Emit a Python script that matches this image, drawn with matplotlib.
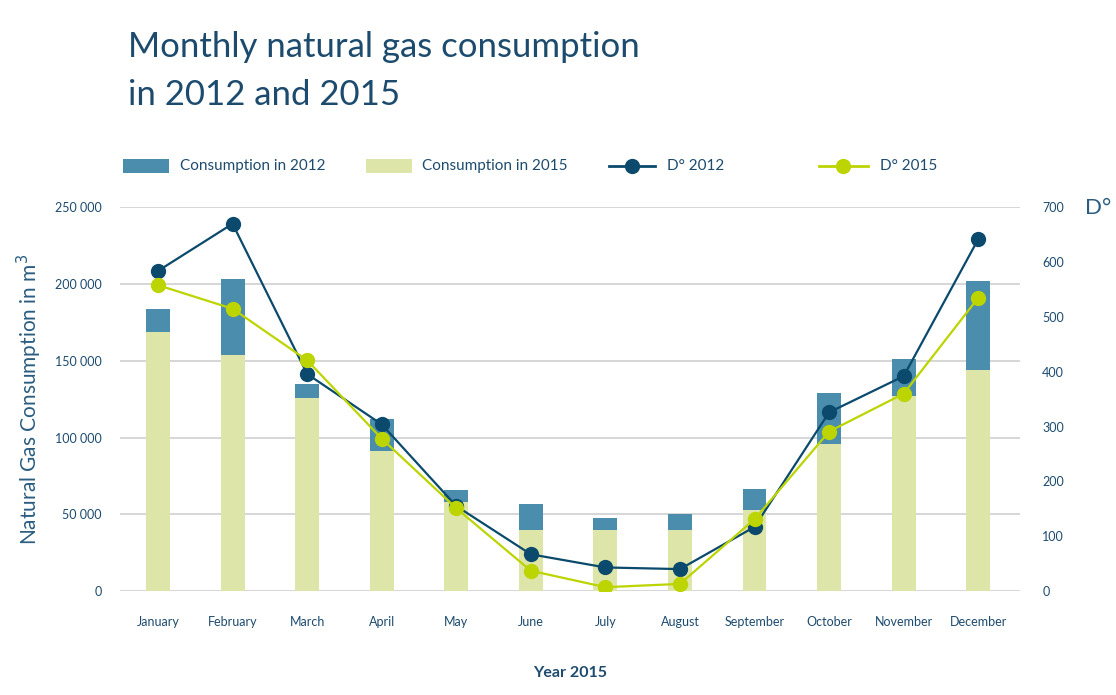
import matplotlib
matplotlib.use("Agg")
import matplotlib.pyplot as plt
from matplotlib.patches import Rectangle
from matplotlib.lines import Line2D
from matplotlib.ticker import FuncFormatter, MultipleLocator

plt.rcParams['font.family'] = ['Lato', 'DejaVu Sans']

months = ["January", "February", "March", "April", "May", "June", "July",
          "August", "September", "October", "November", "December"]
cons_2012 = [184000, 203000, 135000, 112000, 65500, 57000, 47500, 50500, 66500, 129000, 151500, 202000]
cons_2015 = [169000, 154000, 126000, 91000, 58000, 39500, 39500, 39500, 53000, 96000, 127000, 144000]
dd_2012 = [584, 670, 396, 304, 155, 67, 43, 40, 117, 326, 392, 642]
dd_2015 = [558, 515, 421, 278, 151, 37, 7, 13, 131, 291, 360, 535]

C_BAR12 = "#4a8dad"
C_BAR15 = "#dde5a9"
C_LINE12 = "#0b4a6c"
C_LINE15 = "#bcd400"
C_TEXT = "#1d4b6e"
C_LABEL = "#2a5d80"
C_GRID = "#cfcfcf"

fig = plt.figure(figsize=(11.16, 6.95), dpi=100)
ax = fig.add_axes([0.1075, 0.1496, 0.8065, 0.5521])
x = list(range(len(months)))
w = 0.32
ax.bar(x, cons_2012, width=w, color=C_BAR12, zorder=2)
ax.bar(x, cons_2015, width=w, color=C_BAR15, zorder=3)
ax.set_ylim(0, 250000)
ax.set_xlim(-0.51, 11.56)
ax.yaxis.set_major_locator(MultipleLocator(50000))
ax.yaxis.set_major_formatter(FuncFormatter(lambda v, p: f"{int(v):,}".replace(",", " ")))
ax.grid(axis='y', color=C_GRID, linewidth=1.2, zorder=0)
ax.set_axisbelow(True)
for s in ax.spines.values():
    s.set_visible(False)
ax.tick_params(axis='both', length=0, labelsize=9, labelcolor=C_TEXT)
ax.tick_params(axis='y', pad=13)
ax.tick_params(axis='x', pad=18)
ax.set_xticks(x)
ax.set_xticklabels(months)
ax.set_xlabel("Year 2015", fontsize=11.5, fontweight='bold', color=C_TEXT, labelpad=27)
ax.set_ylabel("Natural Gas Consumption in m$^3$", fontsize=15, color=C_LABEL,
              fontweight='normal', labelpad=8)

ax2 = ax.twinx()
ax2.set_ylim(0, 700)
ax2.yaxis.set_major_locator(MultipleLocator(100))
for s in ax2.spines.values():
    s.set_visible(False)
ax2.tick_params(axis='y', length=0, labelsize=9, labelcolor=C_TEXT, pad=16)
ax2.plot(x, dd_2012, color=C_LINE12, lw=1.6, marker='o', ms=11, mew=0, zorder=4)
ax2.plot(x, dd_2015, color=C_LINE15, lw=1.6, marker='o', ms=11, mew=0, zorder=5)
fig.text(1085/1116, 1 - 208/695, "D°", fontsize=16, color=C_LABEL,
         ha='left', va='center')

# Title
fig.text(128/1116, 1 - 31/695, "Monthly natural gas consumption\nin 2012 and 2015",
         fontsize=25, color=C_TEXT, fontweight='normal', ha='left', va='top', linespacing=1.6)

# Legend (manual)
W, H = 1116, 695
ly = 1 - 166/H
def fx(px):
    return px / W
fig.add_artist(Rectangle((fx(123), ly - 7/H), 46/W, 14/H, transform=fig.transFigure,
                         facecolor=C_BAR12, edgecolor='none'))
fig.text(fx(180), ly, "Consumption in 2012", fontsize=11, color=C_TEXT, va='center', ha='left')
fig.add_artist(Rectangle((fx(366), ly - 7/H), 46/W, 14/H, transform=fig.transFigure,
                         facecolor=C_BAR15, edgecolor='none'))
fig.text(fx(422), ly, "Consumption in 2015", fontsize=11, color=C_TEXT, va='center', ha='left')
fig.add_artist(Line2D([fx(609), fx(655)], [ly, ly], transform=fig.transFigure,
                      color=C_LINE12, lw=2))
fig.add_artist(Line2D([fx(632)], [ly], transform=fig.transFigure,
                      color=C_LINE12, marker='o', ms=11, mew=0, ls='none'))
fig.text(fx(667), ly, "D° 2012", fontsize=11, color=C_TEXT, va='center', ha='left')
fig.add_artist(Line2D([fx(819), fx(868)], [ly, ly], transform=fig.transFigure,
                      color=C_LINE15, lw=2))
fig.add_artist(Line2D([fx(843)], [ly], transform=fig.transFigure,
                      color=C_LINE15, marker='o', ms=11, mew=0, ls='none'))
fig.text(fx(880), ly, "D° 2015", fontsize=11, color=C_TEXT, va='center', ha='left')

fig.savefig("out.png", dpi=100)
